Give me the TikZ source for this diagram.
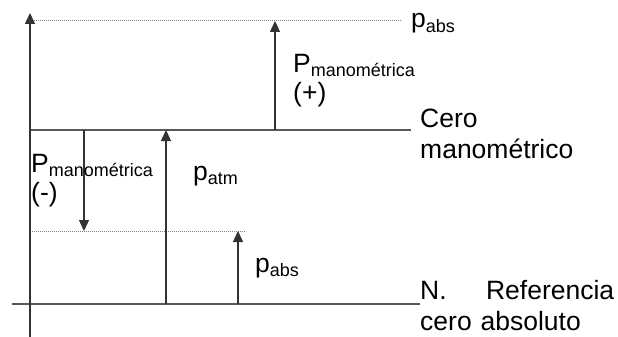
\documentclass[tikz,border=0pt]{standalone}
\usepackage{fontspec}
\setmainfont{Liberation Sans}
\usetikzlibrary{arrows.meta}
\newcommand{\sbs}[1]{\raisebox{-4.5pt}{\fontsize{18}{20}\selectfont #1}}
\tikzset{
	linea/.style={line width=1.3pt, black!65},
	punteada/.style={line width=1pt, black!50, dash pattern=on 1.2pt off 0.8pt},
	flecha/.style={linea, -{Triangle[width=10pt,length=11pt]}, black!80},
	etiqueta/.style={inner sep=0pt, anchor=base west, align=left, font=\fontsize{26.5}{31}\selectfont},
}

\begin{document}
\begin{tikzpicture}[x=1pt,y=-1pt]
				%%%%% START %%%%%
				\def\xeje{30}
				\def\xpos{275}
				\def\xneg{84}
				\def\xatm{166}
				\def\xabs{238}
				\def\yabsup{21}
				\def\ycero{130}
				\def\yabsdn{231}
				\def\yref{304}

				\useasboundingbox (0,0) rectangle (618,337);

				\coordinate (ejebajo) at (\xeje,337);
				\coordinate (ejetop) at (\xeje,13);
				\coordinate (posbajo) at (\xpos,\ycero);
				\coordinate (postop) at (\xpos,\yabsup);
				\coordinate (negtop) at (\xneg,\ycero);
				\coordinate (negbajo) at (\xneg,\yabsdn);
				\coordinate (atmbajo) at (\xatm,\yref);
				\coordinate (atmtop) at (\xatm,\ycero);
				\coordinate (absbajo) at (\xabs,\yref);
				\coordinate (abstop) at (\xabs,\yabsdn);

				% niveles
				\draw[punteada] (\xeje,\yabsup) -- (402,\yabsup);
				\draw[linea] (\xeje,\ycero) -- (411,\ycero);
				\draw[punteada] (\xeje,\yabsdn) -- (246,\yabsdn);
				\draw[linea] (12,\yref) -- (420,\yref);

				% flechas
				\draw[flecha] (ejebajo) -- (ejetop);
				\draw[flecha] (posbajo) -- (postop);
				\draw[flecha] (negtop) -- (negbajo);
				\draw[flecha] (atmbajo) -- (atmtop);
				\draw[flecha] (absbajo) -- (abstop);

				% textos (base = ultima linea, salvo con text width)
				\node[etiqueta] (pabsup) at (411,28) {p\sbs{abs}};
				\node[etiqueta, font=\fontsize{26.5}{29}\selectfont] (pmanpos) at (293,101) {P\sbs{manométrica}\\(+)};
				\node[etiqueta] (cero) at (420,158) {Cero\\manométrico};
				\node[etiqueta, font=\fontsize{26.5}{29}\selectfont] (pmanneg) at (31,201) {P\sbs{manométrica}\\(-)};
				\node[etiqueta] (patm) at (193,180) {p\sbs{atm}};
				\node[etiqueta] (pabsdn) at (255,272) {p\sbs{abs}};
				\node[etiqueta, text width=194pt] (ref) at (420,299) {N.\hfill Referencia\\cero absoluto};
				%%%%% END %%%%%
\end{tikzpicture}
\end{document}
